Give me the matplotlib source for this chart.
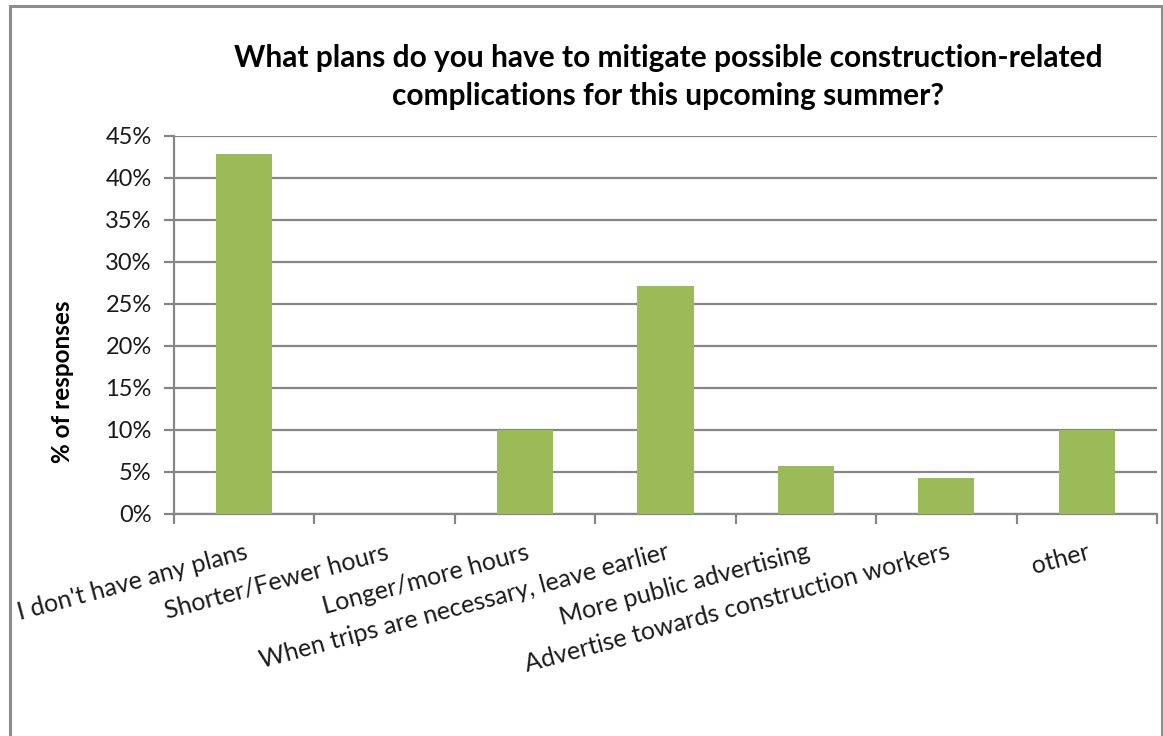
import matplotlib
matplotlib.use("Agg")
import matplotlib.pyplot as plt
from matplotlib.patches import Rectangle
import numpy as np

categories = [
    "I don't have any plans",
    "Shorter/Fewer hours",
    "Longer/more hours",
    "When trips are necessary, leave earlier",
    "More public advertising",
    "Advertise towards construction workers",
    "other",
]
responses_pct = [42.86, 0.0, 10.0, 27.14, 5.71, 4.29, 10.0]
y_ticks = [0, 5, 10, 15, 20, 25, 30, 35, 40, 45]
y_ticklabels = ["0%", "5%", "10%", "15%", "20%", "25%", "30%", "35%", "40%", "45%"]
title = ("What plans do you have to mitigate possible construction-related\n"
         "complications for this upcoming summer?")

plt.rcParams["font.family"] = ["Lato", "DejaVu Sans"]

W, H = 1163, 736
fig = plt.figure(figsize=(W / 100, H / 100), dpi=100)
fig.patch.set_facecolor("white")

# outer chart frame
fig.patches.append(Rectangle((10 / W, -0.05), (1162 - 10) / W, 1.05 - 6 / H,
                             transform=fig.transFigure, fill=False,
                             edgecolor="#8c8c8c", linewidth=2.2, zorder=0))

ax = fig.add_axes([174 / W, 1 - 514 / H, (1157 - 174) / W, (514 - 136) / H])

grid_c = "#868686"
x = np.arange(len(categories))
ax.bar(x, responses_pct, width=0.4, color="#9bbb59", zorder=3)

ax.set_xlim(-0.5, len(categories) - 0.5)
ax.set_ylim(0, 45)
ax.set_yticks(y_ticks)
ax.set_yticklabels(y_ticklabels, fontsize=17, color="#1a1a1a")
ax.yaxis.grid(True, color=grid_c, linewidth=1.6, zorder=1)
ax.set_axisbelow(True)

for s in ["top", "right"]:
    ax.spines[s].set_visible(False)
for s in ["left", "bottom"]:
    ax.spines[s].set_color(grid_c)
    ax.spines[s].set_linewidth(1.6)

ax.tick_params(axis="y", length=7, width=1.6, color=grid_c, pad=9)

# category boundaries carry the x tick marks; labels sit at bar centres
ax.set_xticks(np.arange(len(categories) + 1) - 0.5, minor=True)
ax.tick_params(axis="x", which="minor", length=7, width=1.6, color=grid_c)
ax.set_xticks(x)
ax.set_xticklabels(categories, rotation=15, ha="right", va="top",
                   rotation_mode="anchor", fontsize=18, color="#1a1a1a")
ax.tick_params(axis="x", which="major", length=0, pad=19)

fig.text(62 / W, 1 - 382 / H, "% of responses", rotation=90,
         ha="center", va="center", fontsize=17.5, fontweight="bold")

fig.text(668 / W, 1 - 77 / H, title, ha="center", va="center",
         fontsize=21.5, fontweight="bold", linespacing=1.4)

fig.savefig("out.png", dpi=100)
